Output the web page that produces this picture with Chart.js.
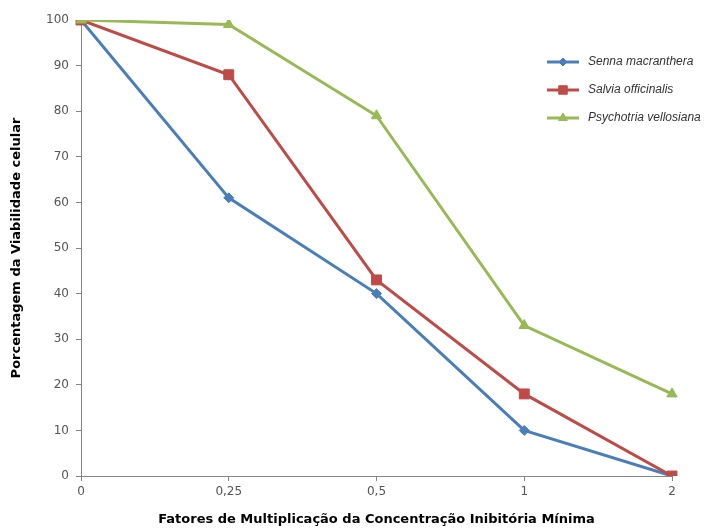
<!DOCTYPE html>
<html>
<head>
<meta charset="utf-8">
<script src="https://cdn.jsdelivr.net/npm/chart.js@4/dist/chart.umd.min.js"></script>
<style>
  html, body { margin: 0; padding: 0; background: #fff; }
  #wrap { width: 712px; height: 531px; }
</style>
</head>
<body>
<div id="wrap"><canvas id="chart"></canvas></div>
<script>
const factors = ['0', '0,25', '0,5', '1', '2'];
const senna = [100, 61, 40, 10, 0];
const salvia = [100, 88, 43, 18, 0];
const psychotria = [100, 99, 79, 33, 18];
const yTicks = [0, 10, 20, 30, 40, 50, 60, 70, 80, 90, 100];

const axisColor = '#868686';
const tickFont = { family: 'DejaVu Sans', size: 12 };
const titleFont = { family: 'DejaVu Sans', size: 13, weight: 'bold' };

// legend drawn inside the plot like the Excel original
const floatingLegend = {
  id: 'floatingLegend',
  afterDraw(chart) {
    const ctx = chart.ctx;
    const rows = [62, 90, 118];
    chart.data.datasets.forEach((ds, i) => {
      const y = rows[i];
      ctx.save();
      ctx.strokeStyle = ds.borderColor;
      ctx.lineWidth = 3;
      ctx.beginPath();
      ctx.moveTo(547, y);
      ctx.lineTo(579, y);
      ctx.stroke();
      ctx.fillStyle = ds.backgroundColor;
      ctx.strokeStyle = ds.borderColor;
      ctx.lineWidth = 1;
      Chart.helpers.drawPoint(ctx, { pointStyle: ds.pointStyle, radius: ds.pointRadius - 1, borderWidth: 1 }, 563, y);
      ctx.fillStyle = '#333';
      ctx.font = 'italic 12px "Liberation Sans"';
      ctx.textBaseline = 'middle';
      ctx.fillText(ds.label, 588, y);
      ctx.restore();
    });
  }
};

new Chart(document.getElementById('chart'), {
  type: 'line',
  data: {
    labels: factors,
    datasets: [
      {
        label: 'Senna macranthera',
        data: senna,
        borderColor: '#4a7ebb',
        backgroundColor: '#4a7ebb',
        pointStyle: 'rectRot',
        pointRadius: 5,
        borderWidth: 3,
        order: 2
      },
      {
        label: 'Salvia officinalis',
        data: salvia,
        borderColor: '#be4b48',
        backgroundColor: '#be4b48',
        pointStyle: 'rect',
        pointRadius: 7,
        borderWidth: 3,
        order: 1
      },
      {
        label: 'Psychotria vellosiana',
        data: psychotria,
        borderColor: '#98b954',
        backgroundColor: '#98b954',
        pointStyle: 'triangle',
        pointRadius: 6,
        borderWidth: 3,
        order: 0
      }
    ]
  },
  options: {
    responsive: true,
    maintainAspectRatio: false,
    animation: false,
    layout: { padding: { left: 0, right: 40, top: 20, bottom: 0 } },
    elements: { line: { tension: 0 }, point: { pointBorderWidth: 1 } },
    plugins: { legend: { display: false }, tooltip: { enabled: false } },
    scales: {
      x: {
        offset: false,
        grid: { drawOnChartArea: false, color: axisColor, tickLength: 5 },
        border: { color: axisColor },
        ticks: { color: '#555', font: tickFont, padding: 4, maxRotation: 0 },
        title: {
          display: true,
          text: 'Fatores de Multiplicação da Concentração Inibitória Mínima',
          color: '#000',
          font: titleFont,
          padding: { top: 4, bottom: 4 }
        },
        afterFit(scale) { scale.height = 55; }
      },
      y: {
        min: 0,
        max: 100,
        afterBuildTicks(scale) { scale.ticks = yTicks.map(v => ({ value: v })); },
        grid: { drawOnChartArea: false, color: axisColor, tickLength: 5 },
        border: { color: axisColor },
        ticks: { color: '#555', font: tickFont, padding: 7 },
        title: {
          display: true,
          text: 'Porcentagem da Viabilidade celular',
          color: '#000',
          font: titleFont,
          padding: { top: 9, bottom: 4 }
        },
        afterFit(scale) { scale.width = 81; }
      }
    }
  },
  plugins: [floatingLegend]
});
</script>
</body>
</html>
